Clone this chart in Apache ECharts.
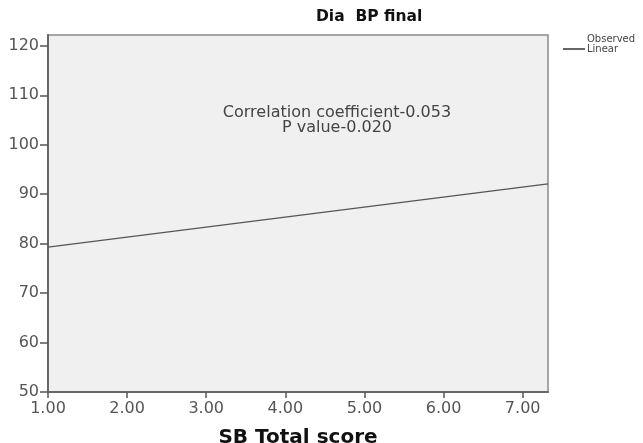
<!DOCTYPE html>
<html>
<head>
<meta charset="utf-8">
<script src="https://cdn.jsdelivr.net/npm/echarts@6/dist/echarts.min.js"></script>
<style>html,body{margin:0;padding:0;background:#fff;}#c{width:643px;height:443px;}</style>
</head>
<body>
<div id="c"></div>
<script>
// Data
const titleText = 'Dia  BP final';
const xAxisName = 'SB Total score';
const xTicks = [1, 2, 3, 4, 5, 6, 7];
const yTicks = [50, 60, 70, 80, 90, 100, 110, 120];
const xRange = [1, 7.32];
const yRange = [50, 122.2];
const linearFit = [[1, 79.3], [7.32, 92.1]];
const annotations = ['Correlation coefficient-0.053', 'P value-0.020'];
const legendNames = ['Observed', 'Linear'];

const chart = echarts.init(document.getElementById('c'), null, {renderer: 'canvas'});
const font = 'DejaVu Sans';
chart.setOption({
  animation: false,
  backgroundColor: '#fff',
  title: {
    text: titleText, left: 311, top: 4,
    textStyle: {fontFamily: font, fontWeight: 'bold', fontSize: 15.5, color: '#111'}
  },
  legend: {
    orient: 'vertical', left: 558, top: 29, itemGap: 0,
    itemWidth: 22, itemHeight: 2,
    textStyle: {fontFamily: font, fontSize: 10, color: '#444', padding: [0, 0, 0, -3]},
    data: [
      {name: legendNames[0], icon: 'none'},
      {name: legendNames[1], icon: 'rect', itemStyle: {color: '#666'}}
    ]
  },
  grid: {
    left: 48, right: 95, top: 35, bottom: 51, show: true,
    outerBoundsMode: 'none', containLabel: false,
    backgroundColor: '#f0f0f0', borderColor: '#8a8a8a', borderWidth: 1.5
  },
  xAxis: {
    type: 'value', min: xRange[0], max: xRange[1],
    name: xAxisName, nameLocation: 'middle', nameGap: 36,
    nameTextStyle: {fontFamily: font, fontWeight: 'bold', fontSize: 20, color: '#111'},
    splitLine: {show: false},
    axisLine: {show: true, lineStyle: {color: '#666', width: 2}},
    axisTick: {show: true, customValues: xTicks, length: 6, lineStyle: {color: '#555', width: 1.5}},
    axisLabel: {customValues: xTicks, margin: 9, fontFamily: font, fontSize: 16, color: '#555',
      formatter: v => v.toFixed(2)}
  },
  yAxis: {
    type: 'value', min: yRange[0], max: yRange[1],
    splitLine: {show: false},
    axisLine: {show: true, lineStyle: {color: '#666', width: 2}},
    axisTick: {show: true, customValues: yTicks, length: 8, lineStyle: {color: '#555', width: 1.5}},
    axisLabel: {customValues: yTicks, margin: 9, fontFamily: font, fontSize: 16, color: '#555'}
  },
  graphic: [
    {type: 'text', x: 337, y: 113, style: {text: annotations[0], align: 'center', verticalAlign: 'middle',
      font: '16px "DejaVu Sans"', fill: '#444'}},
    {type: 'text', x: 337, y: 128, style: {text: annotations[1], align: 'center', verticalAlign: 'middle',
      font: '16px "DejaVu Sans"', fill: '#444'}}
  ],
  series: [
    {name: legendNames[0], type: 'scatter', data: []},
    {name: legendNames[1], type: 'line', data: linearFit, symbol: 'none',
      lineStyle: {color: '#555', width: 1.3}, itemStyle: {color: '#666'}}
  ]
});
</script>
</body>
</html>
